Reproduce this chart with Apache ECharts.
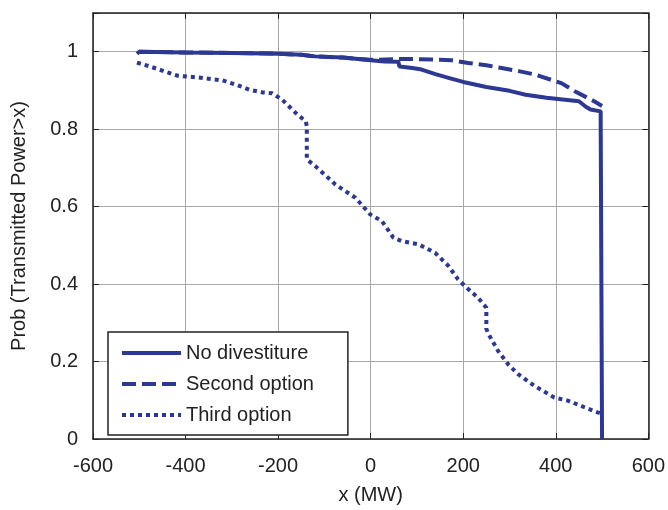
<!DOCTYPE html>
<html>
<head>
<meta charset="utf-8">
<script src="https://cdn.jsdelivr.net/npm/echarts@6/dist/echarts.min.js"></script>
<style>
html,body{margin:0;padding:0;background:#fff;}
#chart{width:668px;height:510px;}
</style>
</head>
<body>
<div id="chart"></div>
<script>
const xTicks = [-600, -400, -200, 0, 200, 400, 600];
const yTicks = [0, 0.2, 0.4, 0.6, 0.8, 1];

const seriesNames = ['No divestiture', 'Second option', 'Third option'];

const solidX = [-505, -500, -400, -300, -200, -150, -120, -60, 0, 30, 60, 62, 90, 110, 140, 170, 200, 250, 300, 335, 380, 420, 450, 465, 475, 497, 500, 500];
const solidY = [0.995, 1.0, 0.998, 0.997, 0.995, 0.992, 0.988, 0.985, 0.978, 0.975, 0.974, 0.962, 0.958, 0.954, 0.942, 0.932, 0.922, 0.909, 0.899, 0.889, 0.881, 0.876, 0.872, 0.858, 0.851, 0.846, 0.846, 0];

const dashX = [-500, -400, -300, -200, -150, -120, -60, 0, 60, 100, 175, 211, 250, 283, 320, 355, 412, 441, 483, 500];
const dashY = [1.0, 0.998, 0.997, 0.995, 0.992, 0.988, 0.985, 0.979, 0.981, 0.981, 0.978, 0.971, 0.965, 0.958, 0.950, 0.941, 0.919, 0.898, 0.872, 0.86];

const dotX = [-505, -477, -417, -377, -320, -291, -262, -234, -213, -191, -162, -140, -138, -138, -119, -76, -33, -1, 24, 49, 67, 103, 139, 168, 189, 211, 232, 250, 250, 257, 275, 297, 318, 354, 397, 426, 462, 490, 500];
const dotY = [0.972, 0.962, 0.938, 0.934, 0.926, 0.915, 0.902, 0.895, 0.893, 0.876, 0.842, 0.820, 0.807, 0.722, 0.704, 0.657, 0.623, 0.580, 0.563, 0.520, 0.511, 0.503, 0.481, 0.447, 0.412, 0.387, 0.365, 0.339, 0.284, 0.266, 0.228, 0.193, 0.168, 0.137, 0.107, 0.099, 0.082, 0.069, 0.065];

const xTitle = 'x (MW)';
const yTitle = 'Prob (Transmitted Power>x)';

function pairs(xs, ys) { return xs.map((x, i) => [x, ys[i]]); }

const lineColor = '#2c3892';
const font = '"Liberation Sans", Arial, Helvetica, sans-serif';
const textColor = '#222';

const chart = echarts.init(document.getElementById('chart'), null, {renderer: 'canvas'});

const frameAxisX = {
  min: -600, max: 600, interval: 200,
  axisLine: {show: true, onZero: false, lineStyle: {color: '#222', width: 1.5}},
  axisTick: {show: true, inside: true, length: 6, lineStyle: {color: '#222'}},
};
const frameAxisY = {
  min: 0, max: 1.1, interval: 0.2,
  axisLine: {show: true, onZero: false, lineStyle: {color: '#222', width: 1.5}},
  axisTick: {show: true, inside: true, length: 6, lineStyle: {color: '#222'}},
};

const option = {
  animation: false,
  backgroundColor: '#fff',
  grid: {left: 93, right: 17, top: 13, bottom: 70, containLabel: false},
  xAxis: [
    Object.assign({}, frameAxisX, {
      type: 'value', position: 'bottom',
      axisLabel: {show: true, margin: 17, fontSize: 20, fontFamily: font, color: textColor},
      splitLine: {show: true, lineStyle: {color: '#a8a8a8', width: 1}},
      name: xTitle, nameLocation: 'middle', nameGap: 46,
      nameTextStyle: {fontSize: 20, fontFamily: font, color: textColor}
    }),
    Object.assign({}, frameAxisX, {
      type: 'value', position: 'top',
      axisLabel: {show: false}, splitLine: {show: false}
    })
  ],
  yAxis: [
    Object.assign({}, frameAxisY, {
      type: 'value', position: 'left',
      axisLabel: {show: true, margin: 15, fontSize: 20, fontFamily: font, color: textColor,
        formatter: v => (yTicks.some(t => Math.abs(t - v) < 1e-9) ? String(Math.round(v * 10) / 10) : '')},
      splitLine: {show: true, lineStyle: {color: '#a8a8a8', width: 1}},
      name: yTitle, nameLocation: 'middle', nameGap: 64,
      nameTextStyle: {fontSize: 20, fontFamily: font, color: textColor}
    }),
    Object.assign({}, frameAxisY, {
      type: 'value', position: 'right',
      axisLabel: {show: false}, splitLine: {show: false}
    })
  ],
  legend: {
    show: true,
    orient: 'vertical',
    left: 108, top: 332,
    padding: [11, 34, 10, 12],
    itemWidth: 59, itemHeight: 12, itemGap: 11,
    borderColor: '#222', borderWidth: 1.5, borderRadius: 0,
    backgroundColor: '#fff',
    itemStyle: {opacity: 0},
    lineStyle: {width: 4},
    textStyle: {fontSize: 20, fontFamily: font, color: textColor, lineHeight: 20},
    data: seriesNames
  },
  series: [
    {
      name: seriesNames[0], type: 'line', data: pairs(solidX, solidY),
      symbol: 'none', z: 4,
      lineStyle: {color: lineColor, width: 4, type: 'solid'},
      itemStyle: {color: lineColor}
    },
    {
      name: seriesNames[1], type: 'line', data: pairs(dashX, dashY),
      symbol: 'none', z: 3,
      lineStyle: {color: lineColor, width: 4, type: [14, 6]},
      itemStyle: {color: lineColor}
    },
    {
      name: seriesNames[2], type: 'line', data: pairs(dotX, dotY),
      symbol: 'none', z: 2,
      lineStyle: {color: lineColor, width: 4, type: [4, 4]},
      itemStyle: {color: lineColor}
    }
  ]
};
chart.setOption(option);
</script>
</body>
</html>
